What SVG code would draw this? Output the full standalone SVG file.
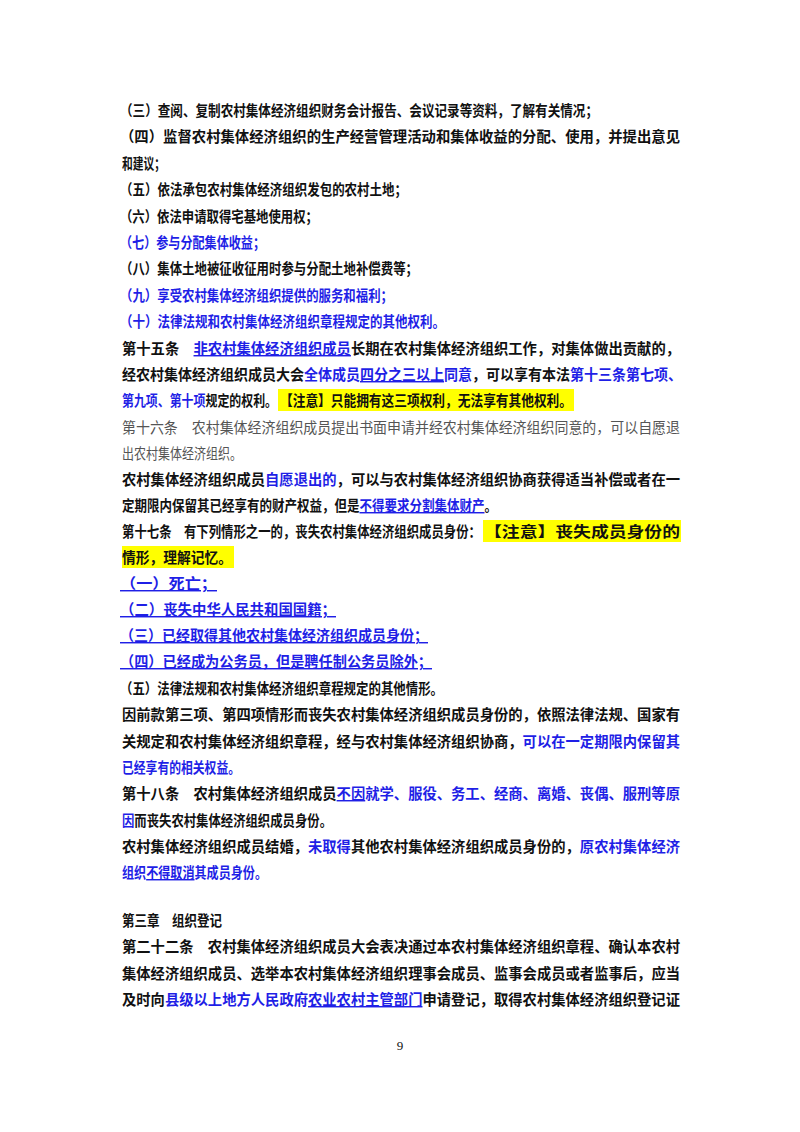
<svg xmlns="http://www.w3.org/2000/svg" width="800" height="1132" viewBox="0 0 800 1132">
<style>
text{font-family:"Noto Sans CJK SC","Liberation Sans",sans-serif;font-size:14.5px;font-weight:700;fill:#111}
.b{fill:#1f1fe6}
.u{text-decoration:underline}
.g{font-weight:400;fill:#555}
.hl{fill:#ffff00}
</style>
<rect width="800" height="1132" fill="#fff"/>
<rect class="hl" x="278" y="389" width="296" height="22"/>
<rect class="hl" x="483" y="520" width="198" height="22"/>
<rect class="hl" x="122" y="546" width="112" height="22"/>
<text x="120" y="116" textLength="478" lengthAdjust="spacingAndGlyphs">（三）查阅、复制农村集体经济组织财务会计报告、会议记录等资料，了解有关情况；</text>
<text x="120" y="142" textLength="560" lengthAdjust="spacingAndGlyphs">（四）监督农村集体经济组织的生产经营管理活动和集体收益的分配、使用，并提出意见</text>
<text x="122" y="169" textLength="43" lengthAdjust="spacingAndGlyphs">和建议；</text>
<text x="120" y="195" textLength="287" lengthAdjust="spacingAndGlyphs">（五）依法承包农村集体经济组织发包的农村土地；</text>
<text x="120" y="222" textLength="198" lengthAdjust="spacingAndGlyphs">（六）依法申请取得宅基地使用权；</text>
<text x="120" y="248" class="b" textLength="145" lengthAdjust="spacingAndGlyphs">（七）参与分配集体收益；</text>
<text x="120" y="274" textLength="298" lengthAdjust="spacingAndGlyphs">（八）集体土地被征收征用时参与分配土地补偿费等；</text>
<text x="120" y="301" class="b" textLength="273" lengthAdjust="spacingAndGlyphs">（九）享受农村集体经济组织提供的服务和福利；</text>
<text x="120" y="327" class="b" textLength="325" lengthAdjust="spacingAndGlyphs">（十）法律法规和农村集体经济组织章程规定的其他权利。</text>
<text x="122" y="354" textLength="558" lengthAdjust="spacingAndGlyphs">第十五条　<tspan class="b u">非农村集体经济组织成员</tspan>长期在农村集体经济组织工作，对集体做出贡献的，</text>
<text x="122" y="380" textLength="560" lengthAdjust="spacingAndGlyphs">经农村集体经济组织成员大会<tspan class="b">全体成员</tspan><tspan class="b u">四分之三以上</tspan><tspan class="b">同意</tspan>，可以享有本法<tspan class="b">第十三条第七项、</tspan></text>
<text x="122" y="406" textLength="155" lengthAdjust="spacingAndGlyphs"><tspan class="b">第九项、第十项</tspan>规定的权利。</text>
<text x="280" y="406" textLength="292" lengthAdjust="spacingAndGlyphs">【注意】只能拥有这三项权利，无法享有其他权利。</text>
<text x="122" y="433" class="g" textLength="558" lengthAdjust="spacingAndGlyphs">第十六条　农村集体经济组织成员提出书面申请并经农村集体经济组织同意的，可以自愿退</text>
<text x="122" y="459" class="g" textLength="120" lengthAdjust="spacingAndGlyphs">出农村集体经济组织。</text>
<text x="122" y="485" textLength="558" lengthAdjust="spacingAndGlyphs">农村集体经济组织成员<tspan class="b">自愿退出的</tspan>，可以与农村集体经济组织协商获得适当补偿或者在一</text>
<text x="122" y="511" textLength="375" lengthAdjust="spacingAndGlyphs">定期限内保留其已经享有的财产权益，但是<tspan class="b u">不得要求分割集体财产</tspan>。</text>
<text x="122" y="537" textLength="359" lengthAdjust="spacingAndGlyphs">第十七条　有下列情形之一的，丧失农村集体经济组织成员身份：</text>
<text x="484" y="537" textLength="196" lengthAdjust="spacingAndGlyphs">【注意】丧失成员身份的</text>
<text x="122" y="563" textLength="110" lengthAdjust="spacingAndGlyphs">情形，理解记忆。</text>
<text x="120" y="589" class="b u" textLength="97" lengthAdjust="spacingAndGlyphs">（一）死亡；</text>
<text x="120" y="615" class="b u" textLength="216" lengthAdjust="spacingAndGlyphs">（二）丧失中华人民共和国国籍；</text>
<text x="120" y="641" class="b u" textLength="308" lengthAdjust="spacingAndGlyphs">（三）已经取得其他农村集体经济组织成员身份；</text>
<text x="120" y="667" class="b u" textLength="312" lengthAdjust="spacingAndGlyphs">（四）已经成为公务员，但是聘任制公务员除外；</text>
<text x="120" y="694" textLength="323" lengthAdjust="spacingAndGlyphs">（五）法律法规和农村集体经济组织章程规定的其他情形。</text>
<text x="122" y="720" textLength="558" lengthAdjust="spacingAndGlyphs">因前款第三项、第四项情形而丧失农村集体经济组织成员身份的，依照法律法规、国家有</text>
<text x="122" y="747" textLength="558" lengthAdjust="spacingAndGlyphs">关规定和农村集体经济组织章程，经与农村集体经济组织协商，<tspan class="b">可以在一定期限内保留其</tspan></text>
<text x="122" y="773" class="b" textLength="118" lengthAdjust="spacingAndGlyphs">已经享有的相关权益。</text>
<text x="122" y="799" textLength="558" lengthAdjust="spacingAndGlyphs">第十八条　农村集体经济组织成员<tspan class="b u">不因</tspan><tspan class="b">就学、服役、务工、经商、离婚、丧偶、服刑等原</tspan></text>
<text x="122" y="826" textLength="210" lengthAdjust="spacingAndGlyphs"><tspan class="b">因</tspan>而丧失农村集体经济组织成员身份。</text>
<text x="122" y="852" textLength="558" lengthAdjust="spacingAndGlyphs">农村集体经济组织成员结婚，<tspan class="b">未取得</tspan>其他农村集体经济组织成员身份的，<tspan class="b">原农村集体经济</tspan></text>
<text x="122" y="878" textLength="145" lengthAdjust="spacingAndGlyphs"><tspan class="b">组织</tspan><tspan class="b u">不得取消</tspan><tspan class="b">其成员身份。</tspan></text>
<text x="122" y="926" textLength="100" lengthAdjust="spacingAndGlyphs">第三章　组织登记</text>
<text x="122" y="952" textLength="558" lengthAdjust="spacingAndGlyphs">第二十二条　农村集体经济组织成员大会表决通过本农村集体经济组织章程、确认本农村</text>
<text x="122" y="979" textLength="558" lengthAdjust="spacingAndGlyphs">集体经济组织成员、选举本农村集体经济组织理事会成员、监事会成员或者监事后，应当</text>
<text x="122" y="1005" textLength="558" lengthAdjust="spacingAndGlyphs">及时向<tspan class="b">县级以上地方人民政府</tspan><tspan class="b u">农业农村主管部门</tspan>申请登记，取得农村集体经济组织登记证</text>
<text x="400" y="1050" text-anchor="middle" style="font-family:'Liberation Serif',serif;font-weight:400;font-size:13px">9</text>
</svg>
